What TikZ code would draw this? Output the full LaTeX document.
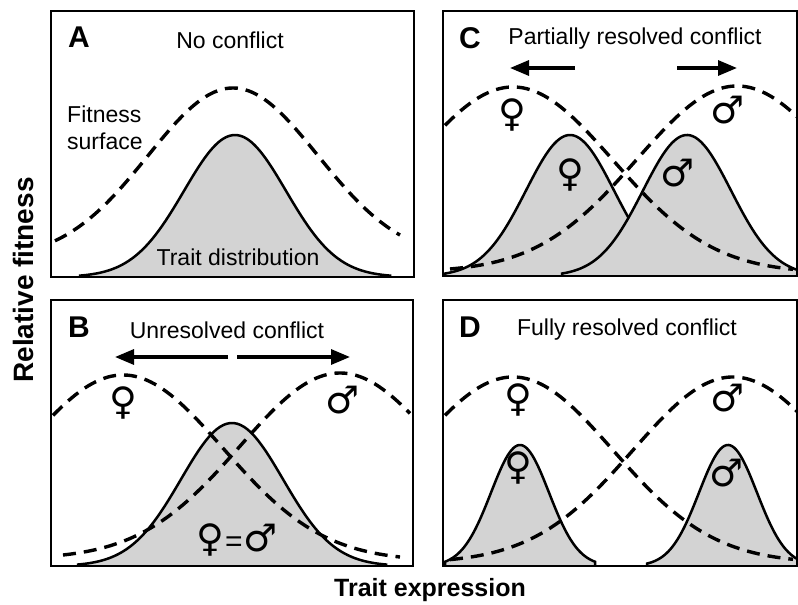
\documentclass[tikz,border=0pt]{standalone}
\usepackage{fontspec}
\setmainfont{Liberation Sans}
\newfontfamily\symf{DejaVu Sans}
\usetikzlibrary{arrows.meta}
\definecolor{distgray}{HTML}{D3D3D3}
\pgfmathdeclarefunction{gau}{3}{\pgfmathparse{exp(-0.5*((#1-#2)/#3)^2)}}
\begin{document}
\begin{tikzpicture}[x=1pt,y=-1pt,
  panel/.style={draw=black, line width=2.6pt},
  fitcurve/.style={line width=3.4pt, dash pattern=on 13pt off 8pt},
  dist/.style={draw=black, fill=distgray, line width=2.5pt},
  ttl/.style={font=\fontsize{23}{27}\selectfont, inner sep=0pt},
  lbl/.style={font=\fontsize{30}{34}\selectfont\bfseries, inner sep=0pt},
  axl/.style={font=\fontsize{25}{29}\selectfont\bfseries, inner sep=0pt},
  sym/.style={font=\fontsize{38}{40}\selectfont\symf, inner sep=0pt},
  arr/.style={line width=3.2pt, -{Triangle[length=19pt,width=15pt]}},
]
\useasboundingbox (0,0) rectangle (798,605);

% ---------- Panel A ----------
\begin{scope}
\clip (51,11) rectangle (414,277);
\filldraw[dist] plot[domain=80:390, samples=90, smooth] (\x, {277-142*gau(\x,235,51)}) -- (390,280) -- (80,280) -- cycle;
\draw[fitcurve] plot[domain=55:400, samples=90, smooth] (\x, {88+172*(1-gau(\x,233,85))});
\end{scope}
\draw[panel] (51,11) rectangle (414,277);
\node[lbl] (labA) at (79,37) {A};
\node[ttl] (ttlA) at (230,40) {No conflict};
\node[ttl, align=left, anchor=west] (fitsurf) at (67,128) {Fitness\\surface};
\node[ttl] (traitd) at (238,257) {Trait distribution};

% ---------- Panel B ----------
\begin{scope}
\clip (51,300) rectangle (413,566);
\filldraw[dist] plot[domain=78:386, samples=90, smooth] (\x, {566-143*gau(\x,232,51)}) -- (386,570) -- (78,570) -- cycle;
\draw[fitcurve] plot[domain=53:400, samples=90, smooth] (\x, {375+186*(1-gau(\x,123,100))});
\draw[fitcurve] plot[domain=63:410, samples=90, smooth] (\x, {373+186*(1-gau(\x,340,100))});
\end{scope}
\draw[panel] (51,300) rectangle (413,566);
\node[lbl] (labB) at (79,327) {B};
\node[ttl] (ttlB) at (227,330) {Unresolved conflict};
\coordinate (bl0) at (228,357); \coordinate (bl1) at (115,357);
\coordinate (br0) at (237,357); \coordinate (br1) at (350,357);
\draw[arr] (bl0) -- (bl1);
\draw[arr] (br0) -- (br1);
\node[sym] (bF) at (123,403) {♀};
\node[sym] (bM) at (343,400) {♂};
\node[ttl] (bEq) at (237,540) {{\symf\fontsize{38}{40}\selectfont ♀}\hspace{1pt}{\fontsize{30}{32}\selectfont =}\hspace{1pt}{\symf\fontsize{38}{40}\selectfont ♂}};

% ---------- Panel C ----------
\begin{scope}
\clip (443,11) rectangle (797,276);
\filldraw[dist] plot[domain=445:700, samples=90, smooth] (\x, {276-141*gau(\x,570,44)}) -- (700,280) -- (445,280) -- cycle;
\filldraw[dist] plot[domain=562:800, samples=90, smooth] (\x, {276-141*gau(\x,687,44)}) -- (800,280) -- (562,280) -- cycle;
\draw[fitcurve] plot[domain=445:793, samples=90, smooth] (\x, {87+186*(1-gau(\x,513,100))});
\draw[fitcurve] plot[domain=450:797, samples=90, smooth] (\x, {86+186*(1-gau(\x,737,100))});
\end{scope}
\draw[panel] (443,11) rectangle (797,276);
\node[lbl] (labC) at (470,38) {C};
\node[ttl] (ttlC) at (635,39) {Partially resolved conflict};
\coordinate (cl0) at (575,68); \coordinate (cl1) at (510,68);
\coordinate (cr0) at (677,68); \coordinate (cr1) at (737,68);
\draw[arr] (cl0) -- (cl1);
\draw[arr] (cr0) -- (cr1);
\node[sym] (cF) at (512,115) {♀};
\node[sym] (cM) at (728,110) {♂};
\node[sym] (cFd) at (570,175) {♀};
\node[sym] (cMd) at (678,173) {♂};

% ---------- Panel D ----------
\begin{scope}
\clip (443,300) rectangle (797,566);
\filldraw[dist] plot[domain=445:595, samples=80, smooth] (\x, {566-121*gau(\x,520,29)}) -- (595,570) -- (445,570) -- cycle;
\filldraw[dist] plot[domain=647:800, samples=80, smooth] (\x, {566-121*gau(\x,728,29)}) -- (800,570) -- (647,570) -- cycle;
\draw[fitcurve] plot[domain=445:793, samples=90, smooth] (\x, {377+186*(1-gau(\x,513,100))});
\draw[fitcurve] plot[domain=450:797, samples=90, smooth] (\x, {377+186*(1-gau(\x,733,100))});
\end{scope}
\draw[panel] (443,300) rectangle (797,566);
\node[lbl] (labD) at (470,327) {D};
\node[ttl] (ttlD) at (627,330) {Fully resolved conflict};
\node[sym] (dF) at (518,400) {♀};
\node[sym] (dM) at (728,398) {♂};
\node[sym] (dFd) at (518,468) {♀};
\node[sym] (dMd) at (727,473) {♂};

% ---------- Axis labels ----------
\node[axl, font=\fontsize{28}{32}\selectfont\bfseries, rotate=90] (ylab) at (23,280) {Relative fitness};
\node[axl] (xlab) at (430,590) {Trait expression};
\end{tikzpicture}
\end{document}
